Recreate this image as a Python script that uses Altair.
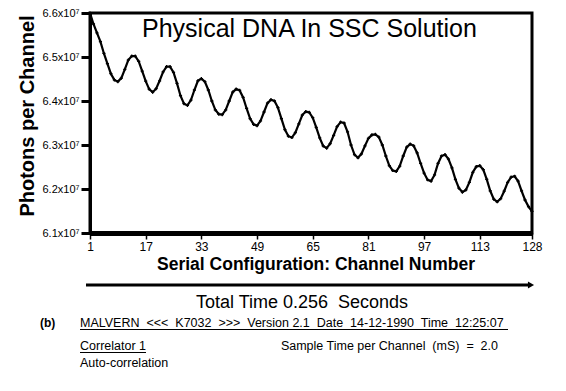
import altair as alt
import pandas as pd

# Photons per channel (units of 1e7), channels 1..128
channels = list(range(1, 129))
photons = [
    6.600, 6.575, 6.555, 6.535, 6.508, 6.485, 6.462, 6.448, 6.444, 6.452,
    6.472, 6.493, 6.502, 6.502, 6.490, 6.468, 6.445, 6.427, 6.420, 6.428,
    6.446, 6.466, 6.478, 6.478, 6.465, 6.440, 6.412, 6.394, 6.390, 6.402,
    6.425, 6.446, 6.451, 6.444, 6.425, 6.400, 6.380, 6.370, 6.369, 6.380,
    6.400, 6.420, 6.427, 6.424, 6.408, 6.383, 6.360, 6.347, 6.344, 6.355,
    6.375, 6.395, 6.403, 6.400, 6.385, 6.360, 6.335, 6.320, 6.317, 6.328,
    6.348, 6.368, 6.376, 6.374, 6.362, 6.340, 6.316, 6.298, 6.293, 6.303,
    6.322, 6.342, 6.352, 6.350, 6.330, 6.300, 6.278, 6.271, 6.280, 6.298,
    6.315, 6.323, 6.324, 6.318, 6.300, 6.275, 6.253, 6.242, 6.240, 6.252,
    6.275, 6.295, 6.302, 6.298, 6.282, 6.258, 6.236, 6.221, 6.218, 6.232,
    6.258, 6.275, 6.278, 6.268, 6.248, 6.222, 6.202, 6.193, 6.198, 6.215,
    6.238, 6.251, 6.253, 6.244, 6.222, 6.196, 6.177, 6.171, 6.178, 6.195,
    6.215, 6.227, 6.229, 6.218, 6.196, 6.175, 6.160, 6.149,
]
x_ticks = [1, 17, 33, 49, 65, 81, 97, 113, 128]
y_ticks = [6.1, 6.2, 6.3, 6.4, 6.5, 6.6]

S = "\u00a0"  # non-breaking space keeps the wide spacing of the original
title_text = "Physical DNA In SSC Solution"
y_title = "Photons per Channel"
x_title = "Serial Configuration: Channel Number"
total_time = "Total Time 0.256" + S + " Seconds"
header = ("MALVERN" + S + " <<<" + S + " K7032" + S + " >>>" + S + " Version 2.1" + S
          + " Date" + S + " 14-12-1990" + S + " Time" + S + " 12:25:07")
correlator = "Correlator 1"
sample_time = "Sample Time per Channel" + S + " (mS)" + S + " =" + S + " 2.0"
auto_corr = "Auto-correlation"
panel = "(b)"

FONT = "Liberation Sans"
W, H = 442, 220

df = pd.DataFrame({"channel": channels, "photons": photons})
one = pd.DataFrame({"k": [0]})

xs = alt.X("channel:Q",
           scale=alt.Scale(domain=[1, 128], nice=False, zero=False),
           axis=alt.Axis(values=x_ticks, title=None, grid=False, domainWidth=5,
                         domainColor="black", tickColor="black", tickWidth=1.5,
                         tickSize=6, labelFontSize=12, labelFont=FONT,
                         labelColor="black", labelPadding=2, labelFlush=False))
ys = alt.Y("photons:Q",
           scale=alt.Scale(domain=[6.1, 6.6], nice=False, zero=False),
           axis=alt.Axis(values=y_ticks, title=None, grid=False, domainWidth=3,
                         domainColor="black", tickColor="black", tickWidth=3,
                         tickSize=9, labelFontSize=11, labelFont=FONT,
                         labelColor="black", labelPadding=2,
                         labelExpr="format(datum.value, '.1f') + 'x10\u2077'"))

line = alt.Chart(df).mark_line(color="black", strokeWidth=2.2).encode(x=xs, y=ys)
pts = alt.Chart(df).mark_point(shape="cross", size=10, filled=True,
                               color="black", opacity=1).encode(x=xs, y=ys)


def txt(s, x, y, size, weight="normal", align="left", angle=0, baseline="alphabetic"):
    return alt.Chart(one).mark_text(text=s, font=FONT, fontSize=size,
                                    fontWeight=weight, align=align, angle=angle,
                                    baseline=baseline, color="black").encode(
        x=alt.value(x), y=alt.value(y))


def rule(x1, x2, y, w):
    return alt.Chart(one).mark_rule(color="black", strokeWidth=w).encode(
        x=alt.value(x1), x2=alt.value(x2), y=alt.value(y))


layers = [
    line, pts,
    txt(title_text, 52, 24, 25),
    txt(y_title, -62, 103, 20, "bold", "center", 270, "middle"),
    txt(x_title, 226, 257, 17.5, "bold", "center"),
    rule(-4, 438, 272, 3),
    alt.Chart(one).mark_point(shape="triangle-right", size=50, filled=True,
                              color="black", opacity=1).encode(
        x=alt.value(441), y=alt.value(272)),
    txt(total_time, 212, 295, 18, "normal", "center"),
    txt(panel, -50, 314, 12, "bold"),
    txt(header, -10, 314, 12.5),
    rule(-10, 418, 316.5, 1),
    txt(correlator, -10, 337, 12.5),
    rule(-10, 56, 339.5, 1),
    txt(sample_time, 408, 337, 12.5, "normal", "right"),
    txt(auto_corr, -10, 354, 12.5),
]

chart = alt.layer(*layers).properties(
    width=W, height=H,
    autosize=alt.AutoSizeParams(type="none"),
    padding={"left": 82, "top": 5, "right": 26, "bottom": 150},
    background="white",
).configure_view(stroke="black", strokeWidth=3)

chart.save("out.html", embed_options={"renderer": "svg", "actions": False})
